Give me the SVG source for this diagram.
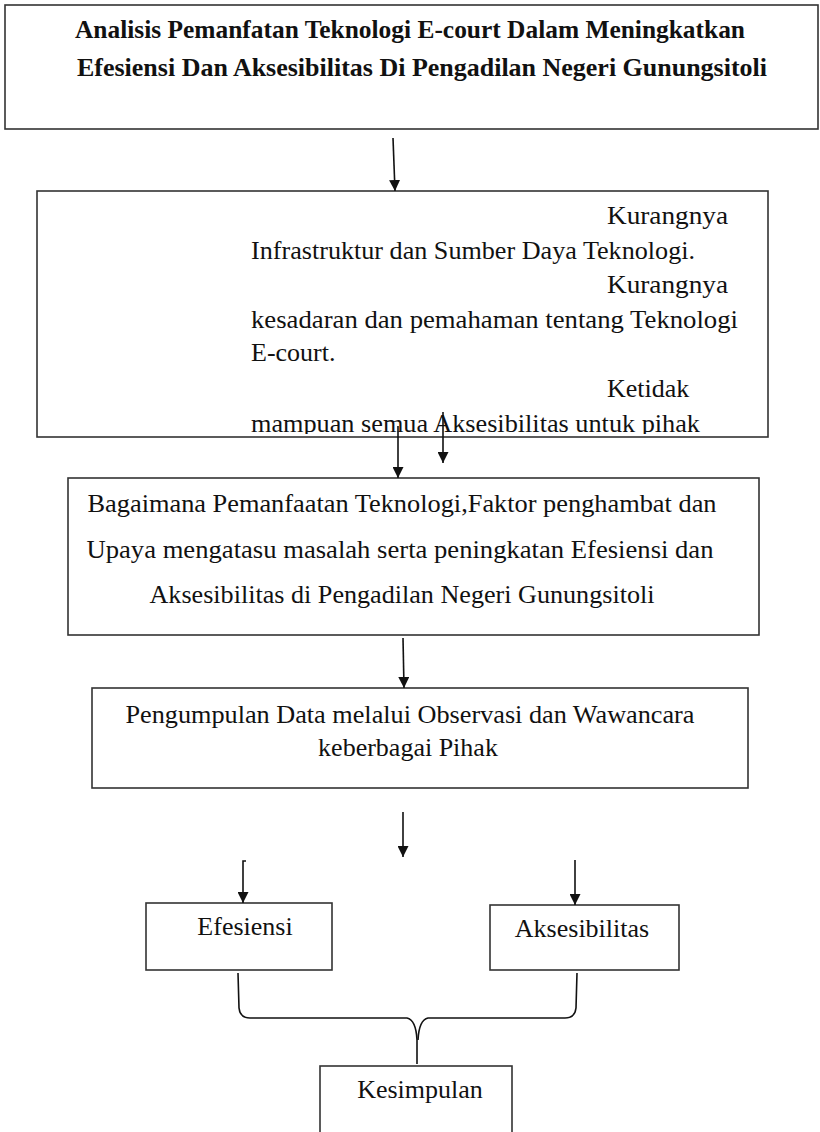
<svg xmlns="http://www.w3.org/2000/svg" width="820" height="1132" viewBox="0 0 820 1132">
<defs>
<style>
.box{fill:#fff;stroke:#333;stroke-width:1.6}
.t{font-family:"Liberation Serif","Times New Roman",serif;font-size:26px;fill:#111}
.tb{font-family:"Liberation Serif","Times New Roman",serif;font-size:25px;font-weight:bold;fill:#111}
.c{text-anchor:middle}
.ln{stroke:#111;stroke-width:1.6;fill:none}
</style>
<marker id="ah" viewBox="0 0 10 10" refX="10" refY="5" markerWidth="11" markerHeight="11" markerUnits="userSpaceOnUse" orient="auto">
<path d="M0,0 L10,5 L0,10 z" fill="#111"/>
</marker>
<clipPath id="clip2"><rect x="38" y="190" width="732" height="244"/></clipPath>
</defs>
<rect width="820" height="1132" fill="#fff"/>

<g id="n1">
<rect class="box" x="5" y="5" width="813" height="124"/>
<text class="tb c" x="410" y="38" textLength="670" lengthAdjust="spacingAndGlyphs">Analisis Pemanfatan Teknologi E-court Dalam Meningkatkan</text>
<text class="tb c" x="422" y="76" textLength="690" lengthAdjust="spacingAndGlyphs">Efesiensi Dan Aksesibilitas Di Pengadilan Negeri Gunungsitoli</text>
</g>

<g id="n2">
<rect class="box" x="37" y="191" width="731" height="246"/>
<g clip-path="url(#clip2)">
<text class="t" x="607" y="224" textLength="121" lengthAdjust="spacingAndGlyphs">Kurangnya</text>
<text class="t" x="251" y="259" textLength="444" lengthAdjust="spacingAndGlyphs">Infrastruktur dan Sumber Daya Teknologi.</text>
<text class="t" x="607" y="293" textLength="121" lengthAdjust="spacingAndGlyphs">Kurangnya</text>
<text class="t" x="251" y="328" textLength="487" lengthAdjust="spacingAndGlyphs">kesadaran dan pemahaman tentang Teknologi</text>
<text class="t" x="251" y="361">E-court.</text>
<text class="t" x="607" y="397">Ketidak</text>
<text class="t" x="251" y="432" textLength="449" lengthAdjust="spacingAndGlyphs">mampuan semua Aksesibilitas untuk pihak</text>
</g>
</g>

<g id="n3">
<rect class="box" x="68" y="478" width="691" height="157"/>
<text class="t c" x="402" y="512" textLength="629" lengthAdjust="spacingAndGlyphs">Bagaimana Pemanfaatan Teknologi,Faktor penghambat dan</text>
<text class="t c" x="400" y="558" textLength="627" lengthAdjust="spacingAndGlyphs">Upaya mengatasu masalah serta peningkatan Efesiensi dan</text>
<text class="t c" x="402" y="603" textLength="505" lengthAdjust="spacingAndGlyphs">Aksesibilitas di Pengadilan Negeri Gunungsitoli</text>
</g>

<g id="n4">
<rect class="box" x="92" y="688" width="656" height="100"/>
<text class="t c" x="410" y="723" textLength="569" lengthAdjust="spacingAndGlyphs">Pengumpulan Data melalui Observasi dan Wawancara</text>
<text class="t c" x="408" y="756">keberbagai Pihak</text>
</g>

<g id="n5">
<rect class="box" x="146" y="903" width="186" height="67"/>
<text class="t c" x="245" y="935">Efesiensi</text>
</g>

<g id="n6">
<rect class="box" x="490" y="905" width="189" height="65"/>
<text class="t c" x="582" y="937">Aksesibilitas</text>
</g>

<g id="n7">
<rect class="box" x="320" y="1066" width="192" height="90"/>
<text class="t c" x="420" y="1098">Kesimpulan</text>
</g>

<g id="connectors">
<line class="ln" x1="393" y1="138" x2="395" y2="191" marker-end="url(#ah)"/>
<line class="ln" x1="398" y1="426" x2="398" y2="478" marker-end="url(#ah)"/>
<line class="ln" x1="443" y1="412" x2="443" y2="463" marker-end="url(#ah)"/>
<line class="ln" x1="403" y1="638" x2="404" y2="688" marker-end="url(#ah)"/>
<line class="ln" x1="403" y1="812" x2="403" y2="857" marker-end="url(#ah)"/>
<path class="ln" d="M246,861 L243,861 L243,903" marker-end="url(#ah)"/>
<line class="ln" x1="575" y1="860" x2="575" y2="905" marker-end="url(#ah)"/>
<path class="ln" d="M238,973 L239,1008 Q240,1018 250,1018 L407,1018 Q416,1020 417,1040 L417,1064"/>
<path class="ln" d="M577,973 L576,1008 Q575,1018 565,1018 L428,1018 Q419,1020 418,1040"/>
</g>
</svg>
